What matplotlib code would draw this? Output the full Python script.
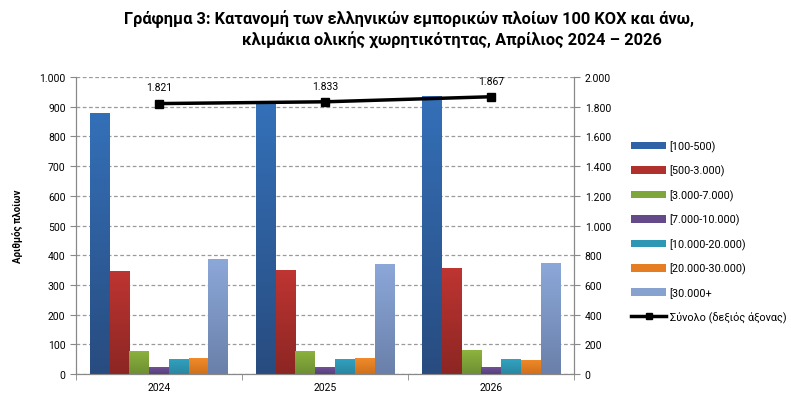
import matplotlib
matplotlib.use("Agg")
import matplotlib.pyplot as plt
import numpy as np
from matplotlib.ticker import FuncFormatter, MultipleLocator, FixedLocator
from matplotlib.lines import Line2D
from matplotlib.patches import Patch
from matplotlib.colors import to_rgb

plt.rcParams['font.family'] = ['Roboto', 'DejaVu Sans']

years = ["2024", "2025", "2026"]
categories = ["[100-500)", "[500-3.000)", "[3.000-7.000)", "[7.000-10.000)",
              "[10.000-20.000)", "[20.000-30.000)", "[30.000+"]
values = {
    "[100-500)":       [880, 908, 936],
    "[500-3.000)":     [347, 349, 356],
    "[3.000-7.000)":   [78, 78, 80],
    "[7.000-10.000)":  [23, 23, 23],
    "[10.000-20.000)": [51, 51, 50],
    "[20.000-30.000)": [53, 53, 48],
    "[30.000+":        [389, 371, 374],
}
totals = [1821, 1833, 1867]
total_label = "Σύνολο (δεξιός άξονας)"
colors_top = ["#3470B8", "#BE3532", "#8DB33F", "#6F519A", "#31A3C2", "#F08A2A", "#8CA8D9"]
colors_bot = ["#284C80", "#8C2623", "#6E8F33", "#584078", "#2A86A0", "#D0701C", "#6A80AA"]
colors_mid = ["#2F62A6", "#B0302E", "#7EA63A", "#654A8A", "#2E97B3", "#E57E22", "#88A2D0"]

def dotfmt(v, pos=None):
    return f"{int(round(v)):,}".replace(",", ".")

fig = plt.figure(figsize=(7.91, 4.02), dpi=100)
ax = fig.add_axes([0.096, 0.067, 0.630, 0.739])
ax2 = ax.twinx()

x = np.arange(len(years))
w = 0.119
n = len(categories)
grad = np.linspace(0, 1, 64).reshape(-1, 1)  # 0 = bottom, 1 = top (origin lower)
for i, cat in enumerate(categories):
    bars = ax.bar(x + (i - (n - 1) / 2) * w, values[cat], width=w, color=colors_mid[i],
                  zorder=3, linewidth=0)
    ct = np.array(to_rgb(colors_top[i]))
    cb = np.array(to_rgb(colors_bot[i]))
    img = (cb[None, None, :] * (1 - grad[:, :, None]) + ct[None, None, :] * grad[:, :, None])
    for b in bars:
        x0, y0 = b.get_x(), b.get_y()
        im = ax.imshow(img, extent=[x0, x0 + b.get_width(), y0, y0 + b.get_height()],
                       origin='lower', aspect='auto', zorder=3.1, interpolation='bilinear')
        im.set_clip_path(b)

ax.set_ylim(0, 1000)
ax.set_xlim(-0.5, 2.5)
ax.yaxis.set_major_locator(MultipleLocator(100))
ax.yaxis.set_major_formatter(FuncFormatter(dotfmt))
ax.grid(axis='y', linestyle=(0, (3, 2)), color='#9a9a9a', linewidth=0.9, zorder=0)
ax.set_axisbelow(True)
ax.set_xticks(x)
ax.set_xticklabels(years)
ax.xaxis.set_minor_locator(FixedLocator([-0.5, 0.5, 1.5, 2.5]))
ax.tick_params(axis='x', which='major', length=0, labelsize=7.5, pad=6)
ax.tick_params(axis='x', which='minor', length=4, direction='out', color='#888888')
ax.tick_params(axis='y', labelsize=7.5, length=4, direction='out', color='#888888')
ax.set_ylabel("Αριθμός πλοίων", fontsize=7, fontweight='bold', labelpad=12)

ax2.plot(x, totals, color='black', linewidth=2.5, marker='s', markersize=6, zorder=5)
for xi, t in zip(x, totals):
    ax2.annotate(dotfmt(t), (xi, t), xytext=(0, 8), textcoords='offset points',
                 ha='center', va='bottom', fontsize=7.5)
ax2.set_ylim(0, 2000)
ax2.yaxis.set_major_locator(MultipleLocator(200))
ax2.yaxis.set_major_formatter(FuncFormatter(dotfmt))
ax2.tick_params(axis='y', labelsize=7.5, length=4, direction='out', color='#888888')

for a in (ax, ax2):
    a.spines['top'].set_visible(False)
    for s in ('left', 'right', 'bottom'):
        a.spines[s].set_color('#888888')

handles = [Patch(facecolor=c, edgecolor='none') for c in colors_mid]
handles.append(Line2D([0], [0], color='black', linewidth=2.5, marker='s', markersize=5))
fig.legend(handles, categories + [total_label], loc='center left',
           bbox_to_anchor=(0.785, 0.422), frameon=False, fontsize=7.8,
           handlelength=3.3, handleheight=0.7, labelspacing=1.2, handletextpad=0.3)

fig.text(124 / 791, 1 - 19 / 402, "Γράφημα 3: Κατανομή των ελληνικών εμπορικών πλοίων 100 ΚΟΧ και άνω,",
         ha='left', va='center', fontsize=11.8, fontweight='bold')
fig.text(242 / 791, 1 - 40 / 402, "κλιμάκια ολικής χωρητικότητας, Απρίλιος 2024 – 2026",
         ha='left', va='center', fontsize=11.8, fontweight='bold')

fig.savefig("out.png", dpi=100)
